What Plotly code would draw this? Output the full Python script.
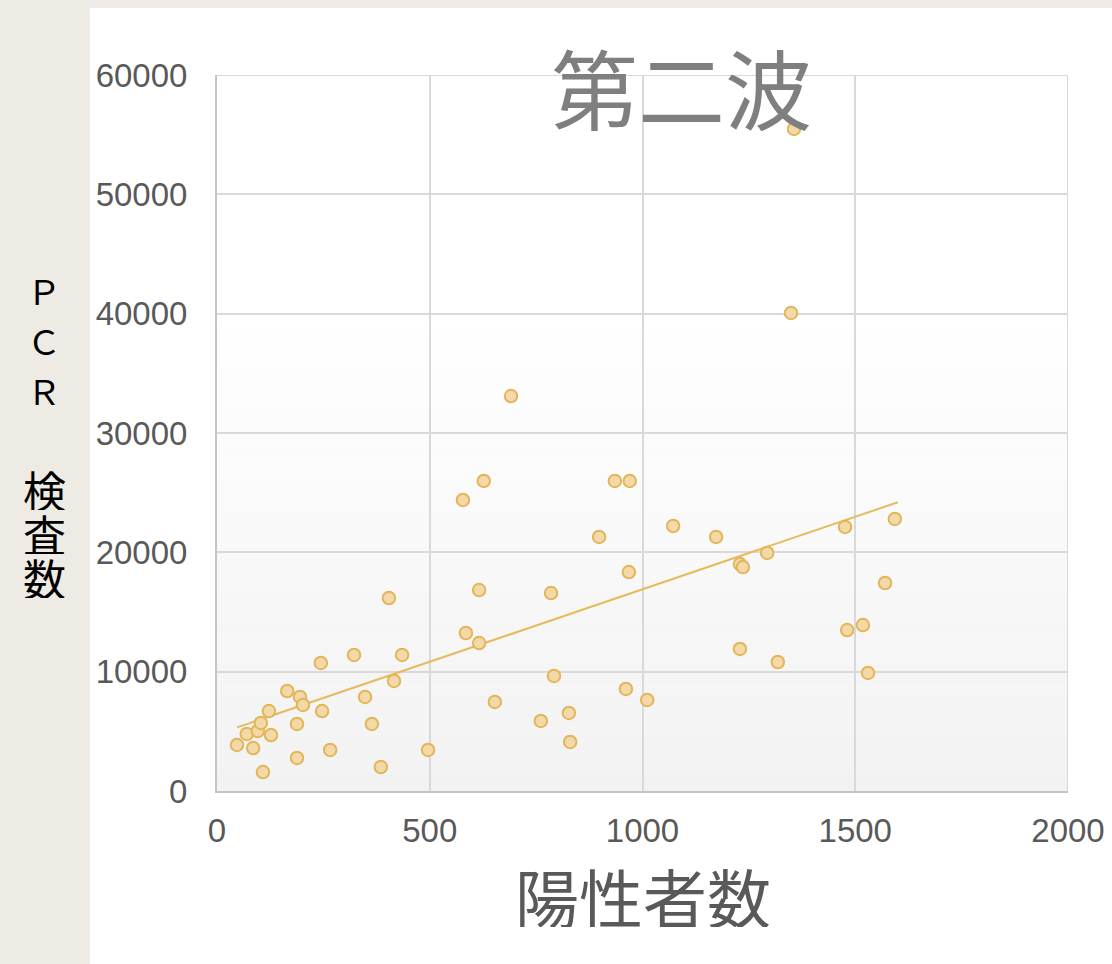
import numpy as np
import plotly.graph_objects as go

# ---- data ----
positives = [47, 70, 85, 96, 103, 108, 122, 127, 165, 188, 188, 195, 202, 244, 247, 266,
             322, 348, 364, 385, 404, 416, 435, 496, 578, 585, 616, 616, 627, 653, 691,
             761, 785, 792, 827, 830, 898, 935, 961, 970, 968, 1011, 1072, 1173, 1229,
             1236, 1229, 1293, 1318, 1349, 1356, 1476, 1481, 1518, 1530, 1570, 1593]
pcr_tests = [3860, 4780, 3600, 5030, 5700, 1590, 6700, 4690, 8380, 5620, 2770, 7880, 7210,
             10730, 6700, 3440, 11400, 7880, 5620, 2010, 16170, 9220, 11400, 3440, 24390,
             13240, 16840, 12400, 25980, 7460, 33100, 5870, 16590, 9640, 6540, 4110, 21290,
             25980, 8550, 25980, 18350, 7630, 22210, 21290, 19020, 18770, 11900, 19950,
             10810, 40060, 55480, 22130, 13490, 13910, 9890, 17430, 22800]
x_ticks = [0, 500, 1000, 1500, 2000]
y_ticks = [0, 10000, 20000, 30000, 40000, 50000, 60000]
title_text = "第二波"
x_title = "陽性者数"
y_title_chars = ["Ｐ", "Ｃ", "Ｒ", "検", "査", "数"]

# linear trendline
slope, intercept = np.polyfit(positives, pcr_tests, 1)
tx = [min(positives), 1600]
ty = [slope * v + intercept for v in tx]

fig = go.Figure()
fig.add_trace(go.Scatter(
    x=tx, y=ty, mode="lines",
    line=dict(color="#e6bb5e", width=2), hoverinfo="skip", showlegend=False))
fig.add_trace(go.Scatter(
    x=positives, y=pcr_tests, mode="markers",
    marker=dict(size=12.5, color="#f3d8a8", line=dict(color="#e2b65a", width=2)),
    showlegend=False))

W, H = 1112, 964
L, R, T, B = 217, 1068, 75, 791
pw, ph = R - L, B - T

def px(xp):
    return (xp - L) / pw

def py(yp):
    return (B - yp) / ph

shapes = []
# white card over beige paper
shapes.append(dict(type="rect", xref="paper", yref="paper",
                   x0=px(90), x1=px(1130), y0=py(1000), y1=py(8),
                   fillcolor="white", line=dict(width=0), layer="below"))
# plot-area gradient (white at 40000 -> light gray at 0)
n = 60
for i in range(n):
    y0 = 40000 * i / n
    y1 = 40000 * (i + 1) / n
    f = (i + 0.5) / n
    c = int(round(242 + (255 - 242) * f))
    shapes.append(dict(type="rect", xref="x", yref="y", x0=0, x1=2000, y0=y0, y1=y1,
                       fillcolor=f"rgb({c},{c},{c})", line=dict(width=0), layer="below"))
# outer border lines at top/right of plot area (same as gridlines)
shapes.append(dict(type="line", xref="x", yref="y", x0=2000, x1=2000, y0=0, y1=60000,
                   line=dict(color="#d9d9d9", width=2), layer="below"))
shapes.append(dict(type="line", xref="x", yref="y", x0=0, x1=2000, y0=60000, y1=60000,
                   line=dict(color="#d9d9d9", width=2), layer="below"))

annotations = [
    dict(text=title_text, x=px(681), y=py(86), xref="paper", yref="paper",
         showarrow=False, xanchor="center", yanchor="middle", height=90,
         font=dict(family="Noto Sans CJK JP", size=87, color="#7f7f7f")),
    dict(text=x_title, x=px(643), y=py(895), xref="paper", yref="paper",
         showarrow=False, xanchor="center", yanchor="middle", height=64,
         font=dict(family="Noto Sans CJK JP", size=64, color="#595959")),
]
ypos = [290, 340, 390, 488, 532, 576]
sizes = [34, 34, 34, 43, 43, 43]
heights = [40, 40, 40, 43, 43, 43]
for ch, yp, s, h in zip(y_title_chars, ypos, sizes, heights):
    annotations.append(dict(text=ch, x=px(44), y=py(yp), xref="paper", yref="paper",
                            showarrow=False, xanchor="center", yanchor="middle", height=h,
                            font=dict(family="Noto Sans CJK JP", size=s, color="#000000")))

tickfont = dict(family="Liberation Sans, Arial", size=33, color="#595959")
fig.update_layout(
    width=W, height=H,
    margin=dict(l=L, r=W - R, t=T, b=H - B, autoexpand=False),
    paper_bgcolor="#eeebe4",
    plot_bgcolor="white",
    shapes=shapes,
    annotations=annotations,
    xaxis=dict(range=[0, 2000], tickvals=x_ticks, ticktext=[str(v) for v in x_ticks],
               showgrid=True, gridcolor="#d9d9d9", gridwidth=2, zeroline=False,
               showline=True, linecolor="#c4c4c4", linewidth=2, automargin=False,
               ticks="", ticklabelstandoff=9, tickfont=tickfont, fixedrange=True),
    yaxis=dict(range=[0, 60000], tickvals=y_ticks, ticktext=[str(v) for v in y_ticks],
               showgrid=True, gridcolor="#d9d9d9", gridwidth=2, zeroline=False,
               showline=True, linecolor="#c4c4c4", linewidth=2, automargin=False,
               ticks="", ticklabelstandoff=21, tickfont=tickfont, fixedrange=True),
)

fig.write_html("out.html")
